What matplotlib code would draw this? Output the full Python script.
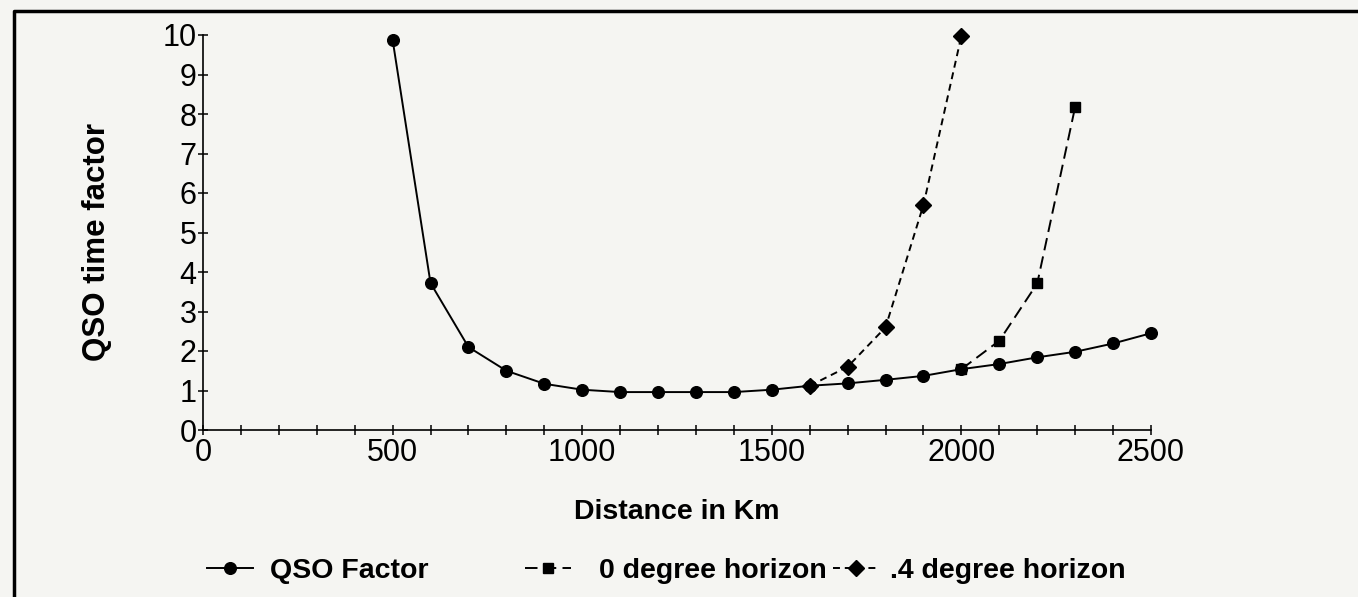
import matplotlib
matplotlib.use("Agg")
import matplotlib.pyplot as plt
from matplotlib.ticker import MultipleLocator, FuncFormatter
from matplotlib.lines import Line2D

# ===========================================================================
# DATOS
# ===========================================================================

distancias = [500, 600, 700, 800, 900, 1000, 1100, 1200, 1300, 1400, 1500,
              1600, 1700, 1800, 1900, 2000, 2100, 2200, 2300, 2400, 2500]
qso_factor = [9.88, 3.72, 2.10, 1.50, 1.17, 1.02, 0.96, 0.96, 0.96, 0.96, 1.02,
              1.12, 1.18, 1.27, 1.37, 1.54, 1.67, 1.84, 1.98, 2.19, 2.45]

dist_0grados = [2000, 2100, 2200, 2300]
horizonte_0 = [1.54, 2.26, 3.71, 8.18]

dist_4grados = [1600, 1700, 1800, 1900, 2000]
horizonte_4 = [1.12, 1.60, 2.60, 5.70, 9.98]

etiquetas = ["QSO Factor", "0 degree horizon", ".4 degree horizon"]

# ===========================================================================
# GRAFICO
# ===========================================================================

plt.rcParams["font.family"] = ["Liberation Sans", "DejaVu Sans"]
plt.rcParams["lines.scale_dashes"] = False

fondo = "#f5f5f2"
W, H = 1358, 597
fig = plt.figure(figsize=(W / 100, H / 100), dpi=100, facecolor=fondo)
ax = fig.add_axes([203 / W, 1 - 430 / H, (1151 - 203) / W, (430 - 35) / H])
ax.set_facecolor(fondo)

l4, = ax.plot(dist_4grados, horizonte_4, color="black", lw=1.4,
              linestyle=(0, (5, 3.5)), marker="D", markersize=8.2,
              clip_on=False, zorder=3)
l0, = ax.plot(dist_0grados, horizonte_0, color="black", lw=1.4,
              linestyle=(0, (9, 4.5)), marker="s", markersize=7.2,
              clip_on=False, zorder=3)
lq, = ax.plot(distancias, qso_factor, color="black", lw=1.4,
              marker="o", markersize=8.4, clip_on=False, zorder=4)

ax.set_xlim(0, 2500)
ax.set_ylim(0, 10)
ax.xaxis.set_major_locator(MultipleLocator(100))
ax.xaxis.set_major_formatter(FuncFormatter(lambda v, p: f"{int(v)}" if v % 500 == 0 else ""))
ax.yaxis.set_major_locator(MultipleLocator(1))

for lado in ["top", "right"]:
    ax.spines[lado].set_visible(False)
for lado in ["left", "bottom"]:
    ax.spines[lado].set_linewidth(1.2)

ax.tick_params(axis="both", direction="inout", length=7, width=1.1,
               labelsize=22, colors="black")
ax.tick_params(axis="x", pad=2)
ax.tick_params(axis="y", pad=1)

ax.set_xlabel("Distance in Km", fontsize=20.5, fontweight="bold", va="center")
ax.xaxis.set_label_coords(0.5, (430 - 512) / 395)
ax.set_ylabel("QSO time factor", fontsize=22.5, fontweight="bold",
              va="center", ha="center")
ax.yaxis.set_label_coords((97 - 203) / 948, 0.475)

# leyenda: tres entradas separadas como en el original
posiciones = [(207, 0.6), (525, 1.0), (833, 0.4)]
for linea, texto, (px, pad) in zip([lq, l0, l4], etiquetas, posiciones):
    fig.legend([linea], [texto], loc="center left",
               bbox_to_anchor=(px / W, 1 - 571 / H), frameon=False,
               prop={"size": 20.5, "weight": "bold"}, handlelength=1.6,
               handletextpad=pad, borderpad=0, borderaxespad=0)

# marco del recorte escaneado
fig.add_artist(Line2D([14 / W, 14 / W, 1], [0, 1 - 11 / H, 1 - 11 / H],
                      color="black", lw=2.5, transform=fig.transFigure))

fig.savefig("out.png", dpi=100, facecolor=fondo)
